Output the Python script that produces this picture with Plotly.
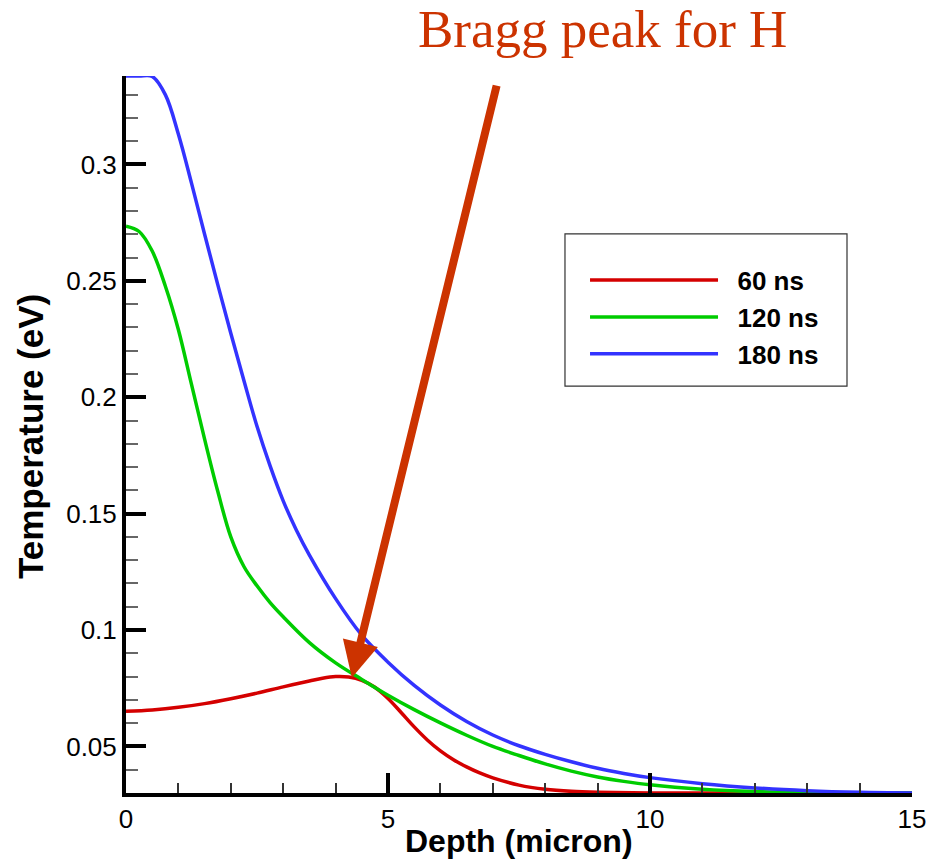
import plotly.graph_objects as go

# Temperature profiles vs depth at three times
depth_60 = [0, 0.5, 1.0, 1.5, 2.0, 2.5, 3.0, 3.5, 3.75, 4.0, 4.25, 4.5, 4.75, 5.0, 5.25,
            5.5, 5.75, 6.0, 6.25, 6.5, 6.75, 7.0, 7.5, 8.0, 8.5, 9.0, 10.0, 12.0, 15.0]
temp_60 = [0.0651, 0.0657, 0.0668, 0.0684, 0.0705, 0.0729, 0.0756, 0.0781, 0.0793, 0.0800,
           0.0798, 0.0784, 0.0754, 0.0706, 0.0646, 0.0584, 0.0528, 0.0481, 0.0443, 0.0412,
           0.0386, 0.0365, 0.0334, 0.0316, 0.0307, 0.0303, 0.0300, 0.0300, 0.0300]

depth_120 = [0, 0.25, 0.5, 0.75, 1.0, 1.25, 1.5, 1.75, 2.0, 2.25, 2.5, 2.75, 3.0, 3.5, 4.0,
             4.5, 5.0, 5.5, 6.0, 6.5, 7.0, 7.5, 8.0, 8.5, 9.0, 9.5, 10.0, 11.0, 12.0, 13.0,
             14.0, 15.0]
temp_120 = [0.2735, 0.2712, 0.2628, 0.2478, 0.2290, 0.2055, 0.1820, 0.1597, 0.1400, 0.1273,
            0.1190, 0.1118, 0.1057, 0.0946, 0.0859, 0.0788, 0.0720, 0.0658, 0.0601, 0.0548,
            0.0500, 0.0461, 0.0425, 0.0394, 0.0369, 0.0350, 0.0335, 0.0316, 0.0306, 0.0302,
            0.0300, 0.0300]

depth_180 = [0, 0.25, 0.5, 0.75, 1.0, 1.25, 1.5, 1.75, 2.0, 2.25, 2.5, 2.75, 3.0, 3.25, 3.5,
             4.0, 4.5, 5.0, 5.5, 6.0, 6.5, 7.0, 7.5, 8.0, 8.5, 9.0, 9.5, 10.0, 11.0, 12.0,
             13.0, 14.0, 15.0]
temp_180 = [0.3380, 0.3380, 0.3378, 0.3300, 0.3130, 0.2920, 0.2700, 0.2485, 0.2275, 0.2072,
            0.1875, 0.1705, 0.1555, 0.1430, 0.1322, 0.1135, 0.0978, 0.0862, 0.0762, 0.0678,
            0.0607, 0.0549, 0.0503, 0.0466, 0.0434, 0.0406, 0.0384, 0.0366, 0.0340, 0.0322,
            0.0310, 0.0303, 0.0300]

series = [
    ("60 ns", depth_60, temp_60, "#D40000"),
    ("120 ns", depth_120, temp_120, "#00CC00"),
    ("180 ns", depth_180, temp_180, "#3333FF"),
]

x_ticks = [0, 5, 10, 15]
y_ticks = [0.05, 0.1, 0.15, 0.2, 0.25, 0.3]

peak_depth, peak_temp = 4.31, 0.0795
arrow_tail = (7.08, 0.3345)

SANS = "Liberation Sans, Arial, sans-serif"

fig = go.Figure()
for name, xs, ys, color in series:
    fig.add_trace(go.Scatter(
        x=xs, y=ys, name="&nbsp;&nbsp;" + name, mode="lines",
        line=dict(color=color, width=3.5, shape="spline", smoothing=1.0),
    ))

axis_font = dict(family=SANS, size=26, color="black")

fig.update_layout(
    width=933, height=862,
    margin=dict(l=126, r=21, t=76, b=69, autoexpand=False),
    paper_bgcolor="white", plot_bgcolor="white",
    showlegend=True,
    legend=dict(
        x=0.584, y=0.748, xanchor="left", yanchor="top",
        font=dict(family=SANS, size=26, color="black", weight="bold"),
        bgcolor="rgba(0,0,0,0)", borderwidth=0,
        itemwidth=128, tracegroupgap=0,
    ),
    xaxis=dict(
        range=[0, 15], tickvals=x_ticks, ticktext=[str(v) for v in x_ticks],
        ticks="inside", ticklen=20, tickwidth=4, tickcolor="black",
        showline=True, linewidth=4, linecolor="black", mirror=False,
        showgrid=False, zeroline=False, tickfont=axis_font, automargin=False,
        minor=dict(dtick=1, tick0=0, ticks="inside", ticklen=10, tickwidth=1.5,
                   tickcolor="#333333", showgrid=False),
    ),
    yaxis=dict(
        range=[0.03, 0.338], tickvals=y_ticks, ticktext=[f"{v:g}" for v in y_ticks],
        ticks="inside", ticklen=20, tickwidth=4, tickcolor="black",
        showline=True, linewidth=4, linecolor="black", mirror=False,
        showgrid=False, zeroline=False, tickfont=axis_font, automargin=False,
        minor=dict(dtick=0.01, tick0=0, ticks="inside", ticklen=12, tickwidth=2,
                   tickcolor="#666666", showgrid=False),
    ),
)

# axis titles
fig.add_annotation(
    x=0.5, y=-0.0669, xref="paper", yref="paper", text="Depth (micron)",
    showarrow=False, xanchor="center", yanchor="middle",
    font=dict(family=SANS, size=32, color="black", weight="bold"),
)
fig.add_annotation(
    x=-0.1221, y=0.4965, xref="paper", yref="paper", text="Temperature (eV)",
    showarrow=False, xanchor="center", yanchor="middle", textangle=-90,
    font=dict(family=SANS, size=35, color="black", weight="bold"),
)

# legend frame
fig.add_shape(type="rect", xref="paper", yref="paper",
              x0=0.5585, x1=0.9173, y0=0.5676, y1=0.7797,
              line=dict(color="#333333", width=1.2), fillcolor="rgba(0,0,0,0)")

# Bragg peak arrow
fig.add_annotation(
    x=peak_depth, y=peak_temp, xref="x", yref="y",
    ax=arrow_tail[0], ay=arrow_tail[1], axref="x", ayref="y",
    text="", showarrow=True, arrowhead=2, arrowsize=0.9, arrowwidth=8,
    arrowcolor="#CC3300", standoff=0,
)
fig.add_annotation(
    x=0.6056, y=1.066, xref="paper", yref="paper",
    text="Bragg peak for H", showarrow=False, xanchor="center", yanchor="middle",
    font=dict(family="Liberation Serif, Times New Roman, serif", size=53, color="#CC3300"),
)

fig.write_html("out.html")
